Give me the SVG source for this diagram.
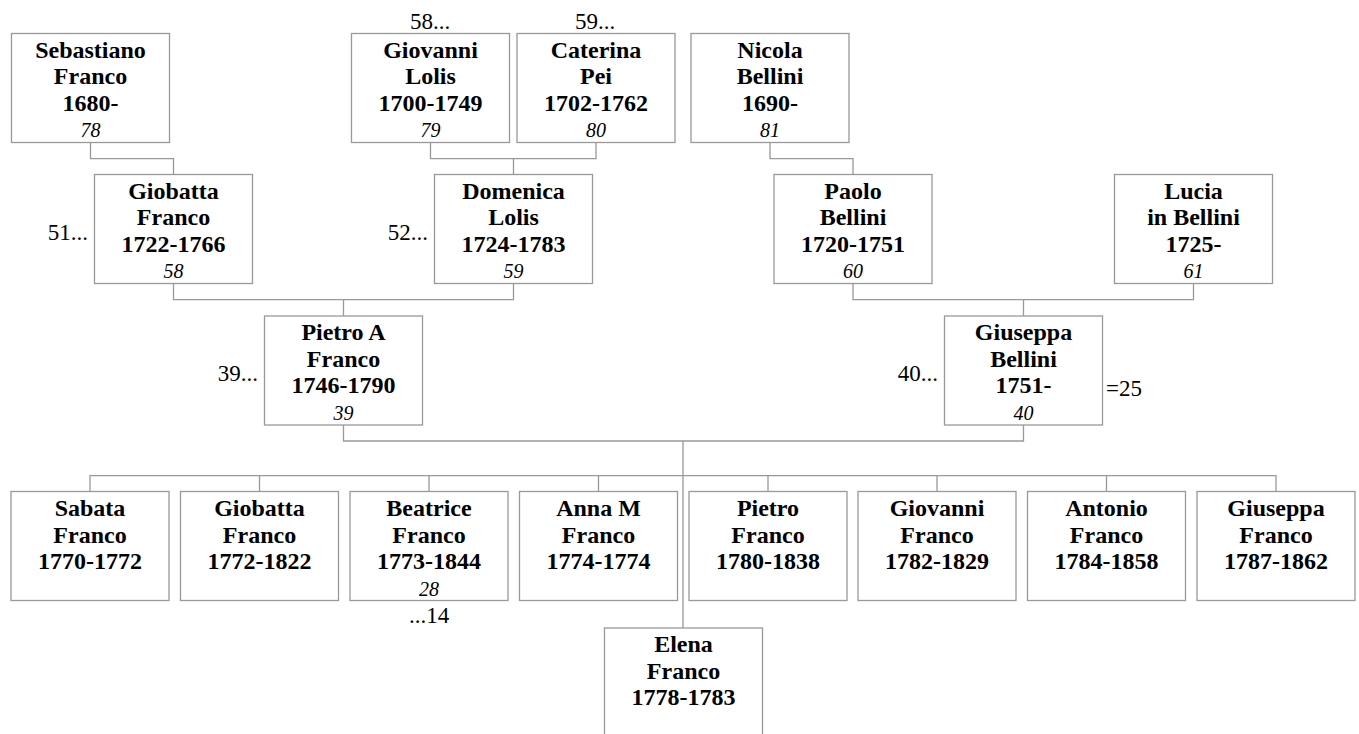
<svg xmlns="http://www.w3.org/2000/svg" width="1359" height="734" viewBox="0 0 1359 734">
<style>
rect.box{fill:#fff;stroke:#999;stroke-width:1.3}
.conn path{fill:none;stroke:#999;stroke-width:1.3}
text{fill:#000}
.n{font-weight:bold;font-size:24px;text-anchor:middle}
.i{font-style:italic;font-size:20px;text-anchor:middle}
.a{font-size:23px}
.m{text-anchor:middle}
.e{text-anchor:end}
</style>
<rect width="1359" height="734" fill="#fff"/>
<g id="connectors" class="conn">
<path d="M90.5 142.5V158.7H173.5V174.5"/>
<path d="M430.5 142.5V158.7H596V142.5M513.5 158.7V174.5"/>
<path d="M770 142.5V158.7H853V174.5"/>
<path d="M173.5 283.5V299.7H513.5V283.5M343.5 299.7V316"/>
<path d="M853 283.5V299.7H1193.5V283.5M1023.5 299.7V316"/>
<path d="M343.5 425V441H1023.5V425M683 441V628"/>
<path d="M90 491.5V475.7H1276V491.5M259.5 475.7V491.5M429 475.7V491.5M598.5 475.7V491.5M768 475.7V491.5M937 475.7V491.5M1106.5 475.7V491.5"/>
</g>
<g font-family="'Liberation Serif', 'Times New Roman', 'DejaVu Serif', serif">
<g id="sebastiano"><rect class="box" x="11.5" y="33.5" width="158" height="109"/><text class="n" x="90.5" y="57.5">Sebastiano</text><text class="n" x="90.5" y="84">Franco</text><text class="n" x="90.5" y="110.5">1680-</text><text class="i" x="90.5" y="137">78</text></g>
<g id="giovanni-lolis"><rect class="box" x="351.5" y="33.5" width="158" height="109"/><text class="n" x="430.5" y="57.5">Giovanni</text><text class="n" x="430.5" y="84">Lolis</text><text class="n" x="430.5" y="110.5">1700-1749</text><text class="i" x="430.5" y="137">79</text><text class="a m" x="430" y="28.5">58...</text></g>
<g id="caterina-pei"><rect class="box" x="517" y="33.5" width="158" height="109"/><text class="n" x="596" y="57.5">Caterina</text><text class="n" x="596" y="84">Pei</text><text class="n" x="596" y="110.5">1702-1762</text><text class="i" x="596" y="137">80</text><text class="a m" x="595" y="28.5">59...</text></g>
<g id="nicola-bellini"><rect class="box" x="691" y="33.5" width="158" height="109"/><text class="n" x="770" y="57.5">Nicola</text><text class="n" x="770" y="84">Bellini</text><text class="n" x="770" y="110.5">1690-</text><text class="i" x="770" y="137">81</text></g>
<g id="giobatta-franco-sr"><rect class="box" x="94.5" y="174.5" width="158" height="109"/><text class="n" x="173.5" y="198.5">Giobatta</text><text class="n" x="173.5" y="225">Franco</text><text class="n" x="173.5" y="251.5">1722-1766</text><text class="i" x="173.5" y="278">58</text><text class="a e" x="88" y="239.5">51...</text></g>
<g id="domenica-lolis"><rect class="box" x="434.5" y="174.5" width="158" height="109"/><text class="n" x="513.5" y="198.5">Domenica</text><text class="n" x="513.5" y="225">Lolis</text><text class="n" x="513.5" y="251.5">1724-1783</text><text class="i" x="513.5" y="278">59</text><text class="a e" x="428" y="239.5">52...</text></g>
<g id="paolo-bellini"><rect class="box" x="774" y="174.5" width="158" height="109"/><text class="n" x="853" y="198.5">Paolo</text><text class="n" x="853" y="225">Bellini</text><text class="n" x="853" y="251.5">1720-1751</text><text class="i" x="853" y="278">60</text></g>
<g id="lucia-bellini"><rect class="box" x="1114.5" y="174.5" width="158" height="109"/><text class="n" x="1193.5" y="198.5">Lucia</text><text class="n" x="1193.5" y="225">in Bellini</text><text class="n" x="1193.5" y="251.5">1725-</text><text class="i" x="1193.5" y="278">61</text></g>
<g id="pietro-a-franco"><rect class="box" x="264.5" y="316" width="158" height="109"/><text class="n" x="343.5" y="340">Pietro A</text><text class="n" x="343.5" y="366.5">Franco</text><text class="n" x="343.5" y="393">1746-1790</text><text class="i" x="343.5" y="419.5">39</text><text class="a e" x="258" y="380.5">39...</text></g>
<g id="giuseppa-bellini"><rect class="box" x="944.5" y="316" width="158" height="109"/><text class="n" x="1023.5" y="340">Giuseppa</text><text class="n" x="1023.5" y="366.5">Bellini</text><text class="n" x="1023.5" y="393">1751-</text><text class="i" x="1023.5" y="419.5">40</text><text class="a e" x="938" y="380.5">40...</text><text class="a" x="1106" y="396">=25</text></g>
<g id="sabata-franco"><rect class="box" x="11" y="491.5" width="158" height="109"/><text class="n" x="90" y="516">Sabata</text><text class="n" x="90" y="542.5">Franco</text><text class="n" x="90" y="569">1770-1772</text></g>
<g id="giobatta-franco"><rect class="box" x="180.5" y="491.5" width="158" height="109"/><text class="n" x="259.5" y="516">Giobatta</text><text class="n" x="259.5" y="542.5">Franco</text><text class="n" x="259.5" y="569">1772-1822</text></g>
<g id="beatrice-franco"><rect class="box" x="350" y="491.5" width="158" height="109"/><text class="n" x="429" y="516">Beatrice</text><text class="n" x="429" y="542.5">Franco</text><text class="n" x="429" y="569">1773-1844</text><text class="i" x="429" y="595.5">28</text><text class="a m" x="429" y="622.5">...14</text></g>
<g id="anna-m-franco"><rect class="box" x="519.5" y="491.5" width="158" height="109"/><text class="n" x="598.5" y="516">Anna M</text><text class="n" x="598.5" y="542.5">Franco</text><text class="n" x="598.5" y="569">1774-1774</text></g>
<g id="pietro-franco"><rect class="box" x="689" y="491.5" width="158" height="109"/><text class="n" x="768" y="516">Pietro</text><text class="n" x="768" y="542.5">Franco</text><text class="n" x="768" y="569">1780-1838</text></g>
<g id="giovanni-franco"><rect class="box" x="858" y="491.5" width="158" height="109"/><text class="n" x="937" y="516">Giovanni</text><text class="n" x="937" y="542.5">Franco</text><text class="n" x="937" y="569">1782-1829</text></g>
<g id="antonio-franco"><rect class="box" x="1027.5" y="491.5" width="158" height="109"/><text class="n" x="1106.5" y="516">Antonio</text><text class="n" x="1106.5" y="542.5">Franco</text><text class="n" x="1106.5" y="569">1784-1858</text></g>
<g id="giuseppa-franco"><rect class="box" x="1197" y="491.5" width="158" height="109"/><text class="n" x="1276" y="516">Giuseppa</text><text class="n" x="1276" y="542.5">Franco</text><text class="n" x="1276" y="569">1787-1862</text></g>
<g id="elena-franco"><rect class="box" x="604.5" y="628" width="158" height="109"/><text class="n" x="683.5" y="652">Elena</text><text class="n" x="683.5" y="678.5">Franco</text><text class="n" x="683.5" y="705">1778-1783</text></g>
</g>
</svg>
